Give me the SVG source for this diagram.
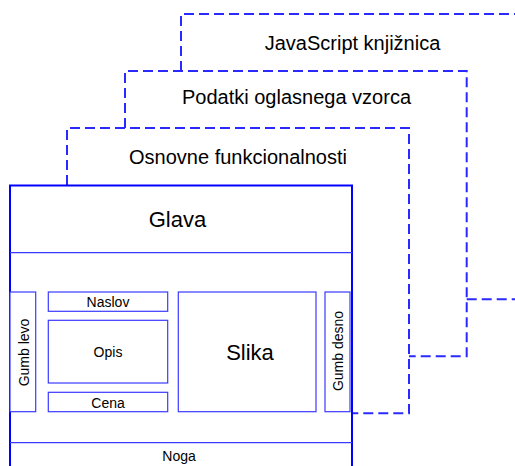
<svg xmlns="http://www.w3.org/2000/svg" width="515" height="466" viewBox="0 0 515 466">
<style>
.layer{fill:none;stroke:#2a2aff;stroke-width:2;stroke-dasharray:10 5}
.frame{fill:#fff;stroke:#0000ff;stroke-width:2}
.box{fill:#fff;stroke:#3a3aff;stroke-width:1.2}
.line{stroke:#3a3aff;stroke-width:1.2}
text{font-family:"Liberation Sans",Arial,sans-serif;fill:#000;text-anchor:middle}
.big{font-size:20px}
.mid{font-size:22px}
.sm{font-size:14px}
</style>
<rect width="515" height="466" fill="#fff"/>
<g id="connectors">
<path class="layer" d="M181,71 V14 H515"/>
<path class="layer" d="M466.7,299.3 H515"/>
<path class="layer" d="M125,128 V71 H466.7 V356.3 H409"/>
<path class="layer" d="M67,185 V128 H409 V413.3 H352"/>
</g>
<g id="layer-js"><text class="big" x="352.5" y="50">JavaScript knjižnica</text></g>
<g id="layer-podatki"><text class="big" x="296.5" y="104">Podatki oglasnega vzorca</text></g>
<g id="layer-osnovne"><text class="big" x="238" y="163.5">Osnovne funkcionalnosti</text></g>
<g id="frame">
<rect class="frame" x="10" y="185.5" width="342" height="290"/>
<line class="line" x1="10" y1="252.7" x2="352" y2="252.7"/>
<line class="line" x1="10" y1="442.7" x2="352" y2="442.7"/>
</g>
<g id="glava"><text class="mid" x="177.5" y="227.3">Glava</text></g>
<g id="noga"><text class="sm" x="179" y="460.5">Noga</text></g>
<g id="gumb-levo">
<rect class="box" x="10" y="292" width="25.7" height="119.7"/>
<text class="sm" transform="translate(28.7,352.5) rotate(-90)">Gumb levo</text>
</g>
<g id="naslov">
<rect class="box" x="48.3" y="292" width="119.4" height="19.3"/>
<text class="sm" x="108" y="306.5">Naslov</text>
</g>
<g id="opis">
<rect class="box" x="48.3" y="320.3" width="119.4" height="62.7"/>
<text class="sm" x="108" y="356.7">Opis</text>
</g>
<g id="cena">
<rect class="box" x="48.3" y="392.3" width="119.4" height="19.4"/>
<text class="sm" x="108" y="407.7">Cena</text>
</g>
<g id="slika">
<rect class="box" x="178.3" y="292" width="137.7" height="119.7"/>
<text class="mid" x="250" y="360">Slika</text>
</g>
<g id="gumb-desno">
<rect class="box" x="325" y="292" width="25" height="119.7"/>
<text class="sm" transform="translate(342.8,351) rotate(-90)">Gumb desno</text>
</g>
</svg>
